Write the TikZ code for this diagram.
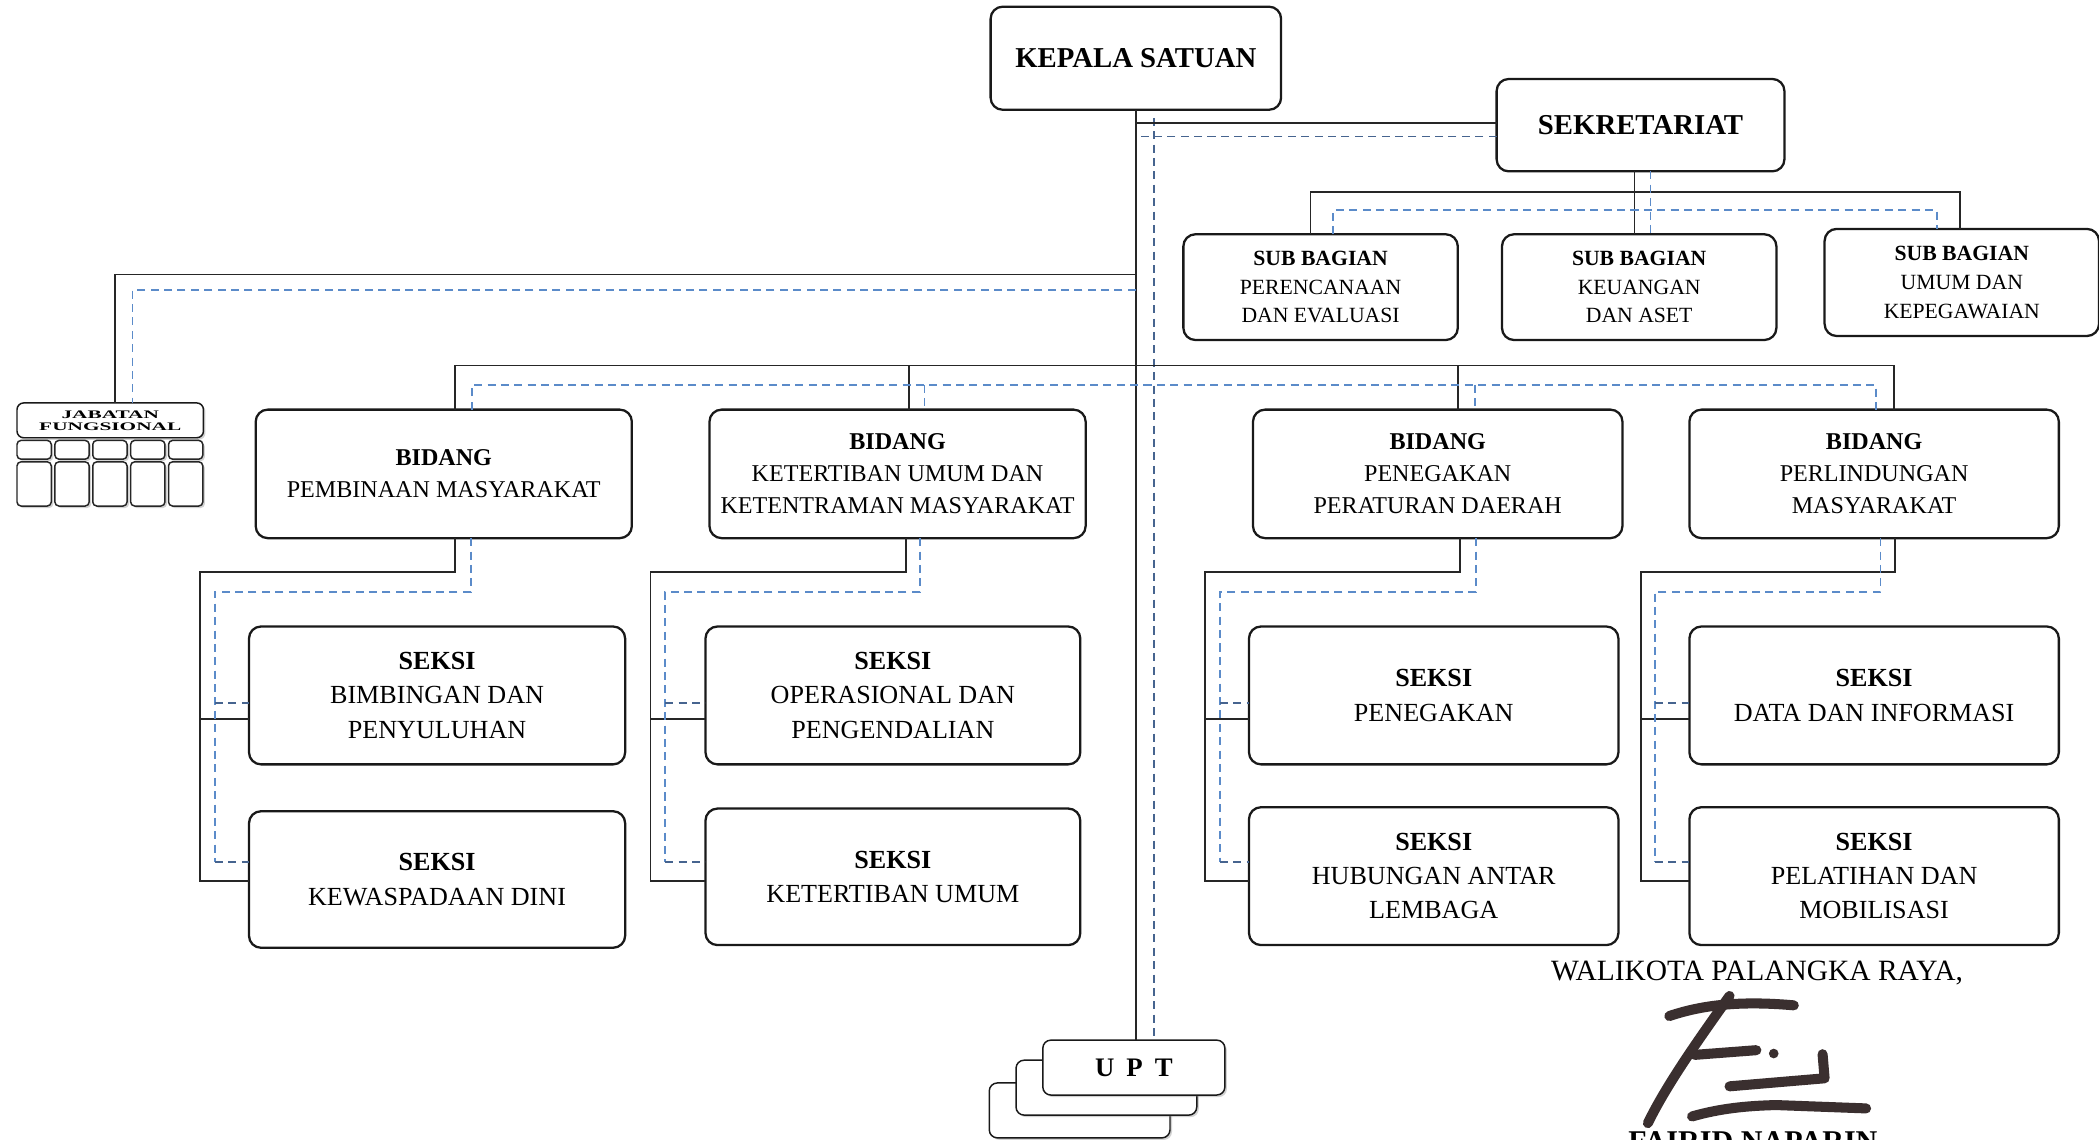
\documentclass[tikz,border=0pt]{standalone}
\usepackage{fontspec}
\setmainfont{Liberation Serif}
\newfontfamily\jabfont[FakeStretch=1.85]{Liberation Serif}
\usetikzlibrary{shadows}
\definecolor{dashblue}{HTML}{5B8BC9}
\definecolor{dashnavy}{HTML}{46648F}
\definecolor{sigink}{HTML}{3A2F2F}
\begin{document}
\begin{tikzpicture}[x=1pt,y=-1pt,
  orgbox/.style={draw=black!90, line width=1.7pt, rounded corners=9pt, fill=white, align=center, inner sep=0pt, outer sep=0pt},
  sl/.style={draw=black!85, line width=1.3pt},
  dl/.style={draw=dashblue, line width=1.3pt, dash pattern=on 6pt off 4pt},
  dln/.style={dl, draw=dashnavy},
  headtxt/.style={font=\bfseries\fontsize{21.5}{26}\selectfont},
  sbtxt/.style={font=\fontsize{16.2}{21.5}\selectfont},
  bidtxt/.style={font=\fontsize{18}{24}\selectfont},
  sektxt/.style={font=\fontsize{19.5}{25.5}\selectfont},
  cell/.style={draw=black!85, line width=1.1pt, rounded corners=3pt, fill=white, inner sep=0pt, outer sep=0pt,
    drop shadow={shadow xshift=1.5pt, shadow yshift=-1.5pt, opacity=0.35}},
  uptbox/.style={orgbox, line width=1.1pt, rounded corners=6pt, minimum width=135pt, minimum height=41pt,
    drop shadow={shadow xshift=1.5pt, shadow yshift=-1.5pt, opacity=0.35}},
  sig/.style={draw=sigink, line width=7.5pt, line cap=round, line join=round}
]
\useasboundingbox (0,0) rectangle (1568,851);
\fill[white] (0,0) rectangle (1568,851);

% ---------- boxes ----------
\node[orgbox, headtxt, minimum width=217pt, minimum height=77pt] (kepala) at (848.5,43.5) {KEPALA SATUAN};
\node[orgbox, headtxt, minimum width=215pt, minimum height=69pt] (sekr) at (1225.5,93.5) {SEKRETARIAT};

\node[orgbox, sbtxt, minimum width=205pt, minimum height=79pt] (sb1) at (986.5,214.5) {\textbf{SUB BAGIAN}\\PERENCANAAN\\DAN EVALUASI};
\node[orgbox, sbtxt, minimum width=205pt, minimum height=79pt] (sb2) at (1224.5,214.5) {\textbf{SUB BAGIAN}\\KEUANGAN\\DAN ASET};
\node[orgbox, sbtxt, minimum width=205pt, minimum height=80pt] (sb3) at (1465.5,211) {\textbf{SUB BAGIAN}\\UMUM DAN\\KEPEGAWAIAN};

\node[orgbox, rounded corners=5pt, line width=1.1pt, minimum width=139.3pt, minimum height=26pt,
  font=\jabfont\bfseries\fontsize{8.6}{9}\selectfont,
  drop shadow={shadow xshift=1.5pt, shadow yshift=-1.5pt, opacity=0.35}] (jab) at (82.35,314)
  {JABATAN\\FUNGSIONAL};
\foreach \i in {0,...,4}{
  \node[cell, minimum width=25.6pt, minimum height=14pt] (jt\i) at ({25.5+28.3*\i},336) {};
  \node[cell, minimum width=25.6pt, minimum height=33pt] (jb\i) at ({25.5+28.3*\i},361.5) {};
}

\node[orgbox, bidtxt, minimum width=281pt, minimum height=96pt] (b1) at (331.5,354) {\textbf{BIDANG}\\PEMBINAAN MASYARAKAT};
\node[orgbox, bidtxt, minimum width=281pt, minimum height=96pt] (b2) at (670.5,354) {\textbf{BIDANG}\\KETERTIBAN UMUM DAN\\KETENTRAMAN MASYARAKAT};
\node[orgbox, bidtxt, minimum width=276pt, minimum height=96pt] (b3) at (1074,354) {\textbf{BIDANG}\\PENEGAKAN\\PERATURAN DAERAH};
\node[orgbox, bidtxt, minimum width=276pt, minimum height=96pt] (b4) at (1400,354) {\textbf{BIDANG}\\PERLINDUNGAN\\MASYARAKAT};

\node[orgbox, sektxt, minimum width=281pt, minimum height=103pt] (s11) at (326.5,519.5) {\textbf{SEKSI}\\BIMBINGAN DAN\\PENYULUHAN};
\node[orgbox, sektxt, minimum width=281pt, minimum height=102pt] (s12) at (326.5,657) {\textbf{SEKSI}\\KEWASPADAAN DINI};
\node[orgbox, sektxt, minimum width=280pt, minimum height=103pt] (s21) at (667,519.5) {\textbf{SEKSI}\\OPERASIONAL DAN\\PENGENDALIAN};
\node[orgbox, sektxt, minimum width=280pt, minimum height=102pt] (s22) at (667,655) {\textbf{SEKSI}\\KETERTIBAN UMUM};
\node[orgbox, sektxt, minimum width=276pt, minimum height=103pt] (s31) at (1071,519.5) {\textbf{SEKSI}\\PENEGAKAN};
\node[orgbox, sektxt, minimum width=276pt, minimum height=103pt] (s32) at (1071,654.5) {\textbf{SEKSI}\\HUBUNGAN ANTAR\\LEMBAGA};
\node[orgbox, sektxt, minimum width=276pt, minimum height=103pt] (s41) at (1400,519.5) {\textbf{SEKSI}\\DATA DAN INFORMASI};
\node[orgbox, sektxt, minimum width=276pt, minimum height=103pt] (s42) at (1400,654.5) {\textbf{SEKSI}\\PELATIHAN DAN\\MOBILISASI};

\node[uptbox] (upt3) at (806.5,829.5) {};
\node[uptbox] (upt2) at (826.5,812.5) {};
\node[uptbox, minimum width=136pt, font=\bfseries\fontsize{20}{24}\selectfont] (upt) at (847,797.5) {U\hspace{9pt}P\hspace{9pt}T};

% ---------- connectors ----------
% trunk
\draw[sl] (kepala.south) -- (kepala.south |- upt.north);
\coordinate (dvt) at (862,88);
\draw[dln] (dvt) -- (dvt |- upt.north);

% kepala -> sekretariat
\coordinate (ss) at ([yshift=1.5pt]sekr.west);
\draw[sl] (ss) -- (ss -| kepala.south);
\coordinate (sd) at ([yshift=-8.5pt]sekr.west);
\draw[dln] (sd) -- (sd -| kepala.south);

% sekretariat -> sub bagian
\draw[sl] ([xshift=-4.5pt]sekr.south) -- ([xshift=-4.5pt]sekr.south |- sb2.north);
\coordinate (sbL) at (979,143.6);
\coordinate (sbR) at (1464,143.6);
\draw[sl] (sbL |- sb1.north) -- (sbL) -- (sbR) -- (sbR |- sb3.north);
\draw[dl] ([xshift=7.5pt]sekr.south) -- ([xshift=7.5pt]sekr.south |- sb2.north);
\coordinate (sdL) at (996,157);
\coordinate (sdR) at (1447,157);
\draw[dl] (sdL |- sb1.north) -- (sdL) -- (sdR) -- (sdR |- sb3.north);

% jabatan fungsional
\coordinate (jS) at (86,205);
\draw[sl] (jS -| kepala.south) -- (jS) -- (jS |- jab.north);
\coordinate (jD) at (99,216.6);
\draw[dl] (jD -| kepala.south) -- (jD) -- (jD |- jab.north);

% bidang
\coordinate (bS1) at (340,273);
\coordinate (bS2) at (679,273);
\coordinate (bS3) at (1089,273);
\coordinate (bS4) at (1415,273);
\draw[sl] (bS1 |- b1.north) -- (bS1) -- (bS4) -- (bS4 |- b4.north);
\draw[sl] (bS2) -- (bS2 |- b2.north);
\draw[sl] (bS3) -- (bS3 |- b3.north);
\coordinate (bD1) at (352.6,287.6);
\coordinate (bD2) at (690.7,287.6);
\coordinate (bD3) at (1101.6,287.6);
\coordinate (bD4) at (1401.5,287.6);
\draw[dl] (bD1 |- b1.north) -- (bD1) -- (bD4) -- (bD4 |- b4.north);
\draw[dl] (bD2) -- (bD2 |- b2.north);
\draw[dl] (bD3) -- (bD3 |- b3.north);

% seksi
\foreach \b/\sa/\sb/\xs/\xl/\xd/\xdl in {b1/s11/s12/340/149.4/351.6/160.6,
    b2/s21/s22/677/486/687/497,
    b3/s31/s32/1090.7/900/1102.7/911.4,
    b4/s41/s42/1415.7/1225.7/1404.8/1236.2}{
  \coordinate (p1) at (\xs,427.5);
  \coordinate (p2) at (\xl,427.5);
  \coordinate (p3) at (\xl,537);
  \coordinate (p4) at (\xl,658);
  \draw[sl] (p1 |- \b.south) -- (p1) -- (p2) -- (p4) -- (p4 -| \sb.west);
  \draw[sl] (p3) -- (p3 -| \sa.west);
  \coordinate (q1) at (\xd,442);
  \coordinate (q2) at (\xdl,442);
  \coordinate (q3) at (\xdl,525);
  \coordinate (q4) at (\xdl,644);
  \draw[dl] (q1 |- \b.south) -- (q1) -- (q2) -- (q4);
  \draw[dln] (q4) -- (q4 -| \sb.west);
  \draw[dln] (q3) -- (q3 -| \sa.west);
}

% ---------- signature block ----------
\node[font=\fontsize{22}{26}\selectfont, inner sep=0pt] (wali) at (1312.5,727) {WALIKOTA PALANGKA RAYA,};
\draw[sig] (1247,759) .. controls (1268,752) and (1295,747) .. (1340,751);
\draw[sig] (1292,744) .. controls (1270,775) and (1245,810) .. (1231,839);
\draw[sig] (1266,788) -- (1312,784.5);
\fill[sigink] (1325,787) circle (3.6pt);
\draw[sig] (1292,811.5) -- (1363,805.5) -- (1361.5,787.5);
\draw[sig] (1264,834) .. controls (1285,828) and (1305,826) .. (1327,825.5) -- (1394,828);
\node[font=\bfseries\fontsize{22.5}{26}\selectfont, anchor=base, inner sep=0pt] (nama) at (1309.5,860) {FAIRID NAPARIN};
\end{tikzpicture}
\end{document}
